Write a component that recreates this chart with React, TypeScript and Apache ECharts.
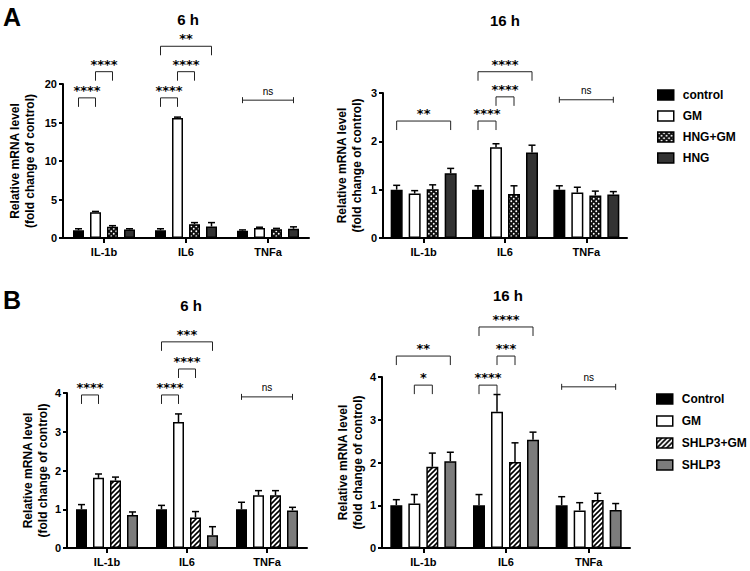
import React, { useEffect, useRef } from 'react';
import * as echarts from 'echarts';

const categories = ['IL-1b', 'IL6', 'TNFa'];
const groupsA = ['control', 'GM', 'HNG+GM', 'HNG'];
const groupsB = ['Control', 'GM', 'SHLP3+GM', 'SHLP3'];

// Panel A, 6 h
const a6Control = [1.0, 1.0, 0.95];
const a6GM = [3.35, 15.6, 1.3];
const a6HngGM = [1.45, 1.8, 1.15];
const a6Hng = [1.1, 1.5, 1.2];
const a6ControlErr = [0.2, 0.2, 0.1];
const a6GMErr = [0.1, 0.1, 0.1];
const a6HngGMErr = [0.15, 0.2, 0.1];
const a6HngErr = [0.1, 0.5, 0.25];

// Panel A, 16 h
const a16Control = [1.0, 1.0, 1.0];
const a16GM = [0.92, 1.88, 0.94];
const a16HngGM = [1.01, 0.91, 0.88];
const a16Hng = [1.34, 1.77, 0.9];
const a16ControlErr = [0.09, 0.08, 0.08];
const a16GMErr = [0.06, 0.07, 0.11];
const a16HngGMErr = [0.09, 0.17, 0.09];
const a16HngErr = [0.1, 0.15, 0.06];

// Panel B, 6 h
const b6Control = [1.0, 1.0, 1.0];
const b6GM = [1.81, 3.25, 1.36];
const b6ShGM = [1.74, 0.79, 1.36];
const b6Sh = [0.85, 0.33, 0.97];
const b6ControlErr = [0.12, 0.1, 0.18];
const b6GMErr = [0.1, 0.21, 0.12];
const b6ShGMErr = [0.09, 0.15, 0.12];
const b6ShErr = [0.08, 0.22, 0.08];

// Panel B, 16 h
const b16Control = [1.0, 1.0, 1.0];
const b16GM = [1.04, 3.19, 0.88];
const b16ShGM = [1.9, 2.01, 1.12];
const b16Sh = [2.03, 2.53, 0.89];
const b16ControlErr = [0.13, 0.25, 0.2];
const b16GMErr = [0.21, 0.4, 0.18];
const b16ShGMErr = [0.32, 0.45, 0.16];
const b16ShErr = [0.21, 0.18, 0.15];

// significance brackets: category, from bar, to bar, height (data units), label
const a6Brackets = [
  { cat: 0, from: 0, to: 1, y: 18.2, label: '****' },
  { cat: 0, from: 1, to: 2, y: 21.6, label: '****' },
  { cat: 1, from: 0, to: 1, y: 18.2, label: '****' },
  { cat: 1, from: 1, to: 2, y: 21.6, label: '****' },
  { cat: 1, from: 0, to: 3, y: 24.9, label: '**' },
  { cat: 2, from: 0, to: 3, y: 17.9, label: 'ns' },
];
const a16Brackets = [
  { cat: 0, from: 0, to: 3, y: 2.42, label: '**' },
  { cat: 1, from: 0, to: 1, y: 2.42, label: '****' },
  { cat: 1, from: 1, to: 2, y: 2.92, label: '****' },
  { cat: 1, from: 0, to: 3, y: 3.44, label: '****' },
  { cat: 2, from: 0, to: 3, y: 2.86, label: 'ns' },
];
const b6Brackets = [
  { cat: 0, from: 0, to: 1, y: 3.95, label: '****' },
  { cat: 1, from: 0, to: 1, y: 3.95, label: '****' },
  { cat: 1, from: 1, to: 2, y: 4.62, label: '****' },
  { cat: 1, from: 0, to: 3, y: 5.32, label: '***' },
  { cat: 2, from: 0, to: 3, y: 3.9, label: 'ns' },
];
const b16Brackets = [
  { cat: 0, from: 1, to: 2, y: 3.81, label: '*' },
  { cat: 0, from: 0, to: 3, y: 4.49, label: '**' },
  { cat: 1, from: 0, to: 1, y: 3.81, label: '****' },
  { cat: 1, from: 1, to: 2, y: 4.49, label: '***' },
  { cat: 1, from: 0, to: 3, y: 5.17, label: '****' },
  { cat: 2, from: 0, to: 3, y: 3.77, label: 'ns' },
];

const FONT = '"Liberation Sans", Arial, Helvetica, sans-serif';

function makeChecker() {
  const c = document.createElement('canvas');
  c.width = 5;
  c.height = 5;
  const g = c.getContext('2d')!;
  g.fillStyle = '#111';
  g.fillRect(0, 0, 5, 5);
  g.fillStyle = '#fff';
  g.beginPath();
  g.arc(1.25, 1.25, 0.95, 0, Math.PI * 2);
  g.fill();
  g.beginPath();
  g.arc(3.75, 3.75, 0.95, 0, Math.PI * 2);
  g.fill();
  return c;
}

function makeStripes() {
  const c = document.createElement('canvas');
  c.width = 5;
  c.height = 5;
  const g = c.getContext('2d')!;
  g.fillStyle = '#fff';
  g.fillRect(0, 0, 5, 5);
  g.strokeStyle = '#000';
  g.lineWidth = 1.6;
  g.beginPath();
  g.moveTo(-1, 6); g.lineTo(6, -1);
  g.moveTo(-1, 1); g.lineTo(1, -1);
  g.moveTo(4, 6); g.lineTo(6, 4);
  g.stroke();
  return c;
}

export default function App() {
  const ref = useRef<HTMLDivElement>(null);

  useEffect(() => {
    const chart = echarts.init(ref.current!, null, { renderer: 'svg' });
    const checker = { image: makeChecker(), repeat: 'repeat' };
    const stripes = { image: makeStripes(), repeat: 'repeat' };
    const colorsA: any[] = ['#000', '#fff', checker, '#333'];
    const colorsB: any[] = ['#000', '#fff', stripes, '#7c7c7c'];

    const panels = [
      {
        grid: { left: 63, top: 84, width: 246, height: 154 }, max: 20, interval: 5, bw: 11, gap: 6, nameGap: 26,
        names: groupsA, colors: colorsA,
        values: [a6Control, a6GM, a6HngGM, a6Hng], errs: [a6ControlErr, a6GMErr, a6HngGMErr, a6HngErr],
        brackets: a6Brackets,
      },
      {
        grid: { left: 383, top: 93, width: 244, height: 145 }, max: 3, interval: 1, bw: 12, gap: 6, nameGap: 19,
        names: groupsA, colors: colorsA,
        values: [a16Control, a16GM, a16HngGM, a16Hng], errs: [a16ControlErr, a16GMErr, a16HngGMErr, a16HngErr],
        brackets: a16Brackets,
      },
      {
        grid: { left: 67, top: 393, width: 240, height: 155 }, max: 4, interval: 1, bw: 11, gap: 6, nameGap: 15,
        names: groupsB, colors: colorsB,
        values: [b6Control, b6GM, b6ShGM, b6Sh], errs: [b6ControlErr, b6GMErr, b6ShGMErr, b6ShErr],
        brackets: b6Brackets,
      },
      {
        grid: { left: 382, top: 377, width: 248, height: 171 }, max: 4, interval: 1, bw: 12, gap: 6, nameGap: 15,
        names: groupsB, colors: colorsB,
        values: [b16Control, b16GM, b16ShGM, b16Sh], errs: [b16ControlErr, b16GMErr, b16ShGMErr, b16ShErr],
        brackets: b16Brackets,
      },
    ];

    const grids: any[] = [];
    const xAxes: any[] = [];
    const yAxes: any[] = [];
    const series: any[] = [];

    panels.forEach((p, gi) => {
      grids.push({ ...p.grid, containLabel: false });
      xAxes.push({
        type: 'category', gridIndex: gi, data: categories,
        axisLine: { show: true, lineStyle: { color: '#000', width: 2 } },
        axisTick: { show: true, alignWithLabel: true, length: 5, lineStyle: { color: '#000', width: 2 } },
        axisLabel: { color: '#000', fontWeight: 'bold', fontSize: 11, fontFamily: FONT, margin: 8 },
      });
      yAxes.push({
        type: 'value', gridIndex: gi, min: 0, max: p.max, interval: p.interval,
        splitLine: { show: false },
        axisLine: { show: true, lineStyle: { color: '#000', width: 2 } },
        axisTick: { show: true, length: 4, lineStyle: { color: '#000', width: 2 } },
        axisLabel: { color: '#000', fontWeight: 'bold', fontSize: 11, fontFamily: FONT, margin: 6 },
        name: 'Relative mRNA level\n(fold change of control)',
        nameLocation: 'middle', nameGap: p.nameGap,
        nameTextStyle: { color: '#000', fontWeight: 'bold', fontSize: 12, lineHeight: 15, fontFamily: FONT },
      });
      const step = p.bw + p.gap;
      p.names.forEach((name, si) => {
        series.push({
          type: 'bar', name, xAxisIndex: gi, yAxisIndex: gi,
          data: p.values[si], barWidth: p.bw, barGap: `${(p.gap / p.bw) * 100}%`,
          itemStyle: { color: p.colors[si], borderColor: '#000', borderWidth: 1.5 },
          emphasis: { disabled: true },
        });
      });
      const errData: number[][] = [];
      p.values.forEach((vals, si) => vals.forEach((v, ci) => errData.push([ci, v, p.errs[si][ci], si])));
      series.push({
        type: 'custom', xAxisIndex: gi, yAxisIndex: gi, z: 5, silent: true,
        encode: { x: 0, y: 1 },
        data: errData,
        renderItem: (params: any, api: any) => {
          const c = api.value(0), v = api.value(1), e = api.value(2), si = api.value(3);
          const p0 = api.coord([c, v]);
          const p1 = api.coord([c, v + e]);
          const x = p0[0] + (si - 1.5) * step;
          return {
            type: 'group',
            children: [
              { type: 'line', shape: { x1: x, y1: p0[1], x2: x, y2: p1[1] }, style: { stroke: '#000', lineWidth: 1.5 } },
              { type: 'line', shape: { x1: x - 3.5, y1: p1[1], x2: x + 3.5, y2: p1[1] }, style: { stroke: '#000', lineWidth: 1.5 } },
            ],
          };
        },
      });
      const br = p.brackets;
      series.push({
        type: 'custom', xAxisIndex: gi, yAxisIndex: gi, z: 6, silent: true, clip: false,
        encode: { x: 0, y: 1 },
        data: br.map((b) => [b.cat, b.y]),
        renderItem: (params: any, api: any) => {
          const b = br[params.dataIndex];
          const c = api.coord([b.cat, b.y]);
          const x1 = c[0] + (b.from - 1.5) * step;
          const x2 = c[0] + (b.to - 1.5) * step;
          const y = c[1];
          const ls = { stroke: '#222', lineWidth: 1 };
          if (b.label === 'ns') {
            return {
              type: 'group',
              children: [
                { type: 'line', shape: { x1, y1: y, x2, y2: y }, style: ls },
                { type: 'line', shape: { x1, y1: y - 3, x2: x1, y2: y + 3 }, style: ls },
                { type: 'line', shape: { x1: x2, y1: y - 3, x2, y2: y + 3 }, style: ls },
                { type: 'text', style: { text: 'ns', x: (x1 + x2) / 2, y: y - 4, align: 'center', verticalAlign: 'bottom', fontSize: 10, fontFamily: FONT, fill: '#000' } },
              ],
            };
          }
          return {
            type: 'group',
            children: [
              { type: 'polyline', shape: { points: [[x1, y + 9], [x1, y], [x2, y], [x2, y + 9]] }, style: { ...ls, fill: null } },
              { type: 'text', style: { text: b.label, x: (x1 + x2) / 2, y: y - 1, align: 'center', verticalAlign: 'bottom', fontSize: 13, fontWeight: 'bold', fontFamily: '"DejaVu Sans", sans-serif', fill: '#000' } },
            ],
          };
        },
      });
    });

    const legendBase = {
      orient: 'vertical', icon: 'rect', itemWidth: 16, itemHeight: 10,
      itemStyle: { borderColor: '#000', borderWidth: 1.5 },
      textStyle: { color: '#000', fontWeight: 'bold', fontSize: 12, fontFamily: FONT, padding: [0, 0, 0, 4] },
      selectedMode: false,
    };

    const titleStyle = { fill: '#000', fontWeight: 'bold', fontSize: 15, fontFamily: FONT, align: 'center', verticalAlign: 'middle' };
    const letterStyle = { fill: '#000', fontWeight: 'bold', fontSize: 25, fontFamily: FONT, verticalAlign: 'middle' };

    chart.setOption({
      animation: false,
      backgroundColor: '#fff',
      grid: grids,
      xAxis: xAxes,
      yAxis: yAxes,
      legend: [
        { ...legendBase, data: groupsA, left: 652, top: 84, itemGap: 9 },
        { ...legendBase, data: groupsB, left: 651, top: 388, itemGap: 10 },
      ],
      graphic: [
        { type: 'text', left: 3, top: 4, style: { ...letterStyle, text: 'A' } },
        { type: 'text', left: 3, top: 287, style: { ...letterStyle, text: 'B' } },
        { type: 'text', x: 188, y: 19, style: { ...titleStyle, text: '6 h' } },
        { type: 'text', x: 505, y: 20, style: { ...titleStyle, text: '16 h' } },
        { type: 'text', x: 191, y: 305, style: { ...titleStyle, text: '6 h' } },
        { type: 'text', x: 508, y: 295, style: { ...titleStyle, text: '16 h' } },
      ],
      series,
    });
    return () => chart.dispose();
  }, []);

  return <div ref={ref} style={{ position: 'fixed', left: 0, top: 0, width: 750, height: 571, background: '#fff' }} />;
}
